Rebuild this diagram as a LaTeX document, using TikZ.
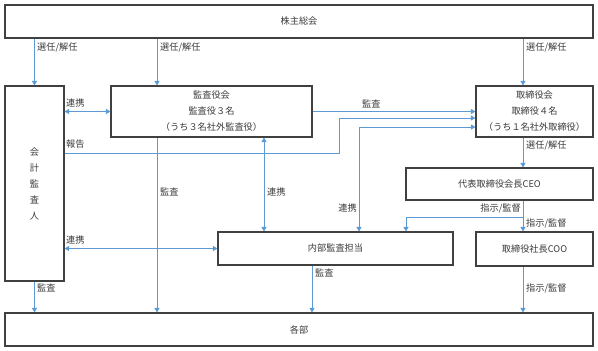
\documentclass[tikz,border=0pt]{standalone}
\usepackage{fontspec}
\setmainfont{Noto Sans CJK JP}
\usetikzlibrary{arrows.meta}
\definecolor{txt}{HTML}{3A3A3A}
\definecolor{bdr}{HTML}{404040}
\definecolor{lnk}{HTML}{5B9BD5}
\tikzset{
  box/.style={draw=bdr, line width=1.1pt, fill=white, inner sep=0pt, text=txt, align=center,
    font=\fontsize{9.2}{16}\selectfont},
  lbl/.style={inner sep=0pt, text=txt, font=\fontsize{9.2}{11}\selectfont},
  arr/.style={draw=lnk, line width=0.9pt, -{Triangle[length=4.5pt,width=5pt]}},
  darr/.style={draw=lnk, line width=0.9pt, {Triangle[length=4.5pt,width=5pt]}-{Triangle[length=4.5pt,width=5pt]}},
}
\begin{document}
\begin{tikzpicture}[x=1pt,y=-1pt]
\useasboundingbox (0,0) rectangle (598,351);
% boxes
\node[box, minimum width=588pt, minimum height=33pt] (sh) at (299,21.5) {株主総会};
\node[box, minimum width=59pt, minimum height=195pt] (kk) at (34.5,183.5) {会\\計\\監\\査\\人};
\node[box, minimum width=201pt, minimum height=51pt] (ka) at (211.5,111.5) {監査役会\\監査役３名\\（うち３名社外監査役）};
\node[box, minimum width=117pt, minimum height=51pt] (tb) at (534.5,111.5) {取締役会\\取締役４名\\（うち１名社外取締役）};
\node[box, minimum width=187pt, minimum height=32pt] (ceo) at (499.5,184) {代表取締役会長CEO};
\node[box, minimum width=235pt, minimum height=33pt] (nb) at (335.5,248.5) {内部監査担当};
\node[box, minimum width=117pt, minimum height=34pt] (coo) at (534.5,249) {取締役社長COO};
\node[box, minimum width=588pt, minimum height=33pt] (kb) at (299,329.5) {各部};
% helper coordinates
\coordinate (xa) at (157,0);
\coordinate (xt) at (523,0);
\coordinate (xr) at (264,0);
\coordinate (xn) at (359,0);
\coordinate (xi) at (312,0);
\coordinate (xc) at (406,0);
\coordinate (xh) at (339,0);
\coordinate (yh) at (0,153);
\coordinate (yk) at (0,118);
\coordinate (yn) at (0,127);
\coordinate (yb) at (0,217);
% connectors
\draw[arr] (sh.south -| kk.north) -- (kk.north);
\draw[arr] (sh.south -| xa) -- (ka.north -| xa);
\draw[arr] (sh.south -| xt) -- (tb.north -| xt);
\draw[darr] (kk.east |- ka.west) -- (ka.west);
\draw[arr] (ka.east) -- (tb.west |- ka.east);
\draw[arr] (kk.east |- yh) -- (xh |- yh) -- (xh |- yk) -- (tb.west |- yk);
\draw[darr] (tb.west |- yn) -- (xn |- yn) -- (nb.north -| xn);
\draw[darr] (ka.south -| xr) -- (nb.north -| xr);
\draw[arr] (ka.south -| xa) -- (kb.north -| xa);
\draw[darr] (kk.east |- nb.west) -- (nb.west);
\draw[arr] (kk.south) -- (kb.north -| kk.south);
\draw[arr] (nb.south -| xi) -- (kb.north -| xi);
\draw[arr] (tb.south -| xt) -- (ceo.north -| xt);
\draw[arr] (ceo.south -| xt) -- (coo.north -| xt);
\draw[arr] (xt |- yb) -- (xc |- yb) -- (nb.north -| xc);
\draw[arr] (coo.south -| xt) -- (kb.north -| xt);
% labels
\node[lbl, anchor=west] (l1) at (37,47) {選任/解任};
\node[lbl, anchor=west] (l2) at (160,47) {選任/解任};
\node[lbl, anchor=west] (l3) at (526,47) {選任/解任};
\node[lbl, anchor=west] (l4) at (66,103) {連携};
\node[lbl, anchor=west] (l5) at (66,144) {報告};
\node[lbl, anchor=west] (l6) at (362,104) {監査};
\node[lbl, anchor=west] (l7) at (526,145) {選任/解任};
\node[lbl, anchor=west] (l8) at (160,192) {監査};
\node[lbl, anchor=west] (l9) at (267,192) {連携};
\node[lbl, anchor=east] (l10) at (357,208) {連携};
\node[lbl, anchor=east] (l11) at (521,208) {指示/監督};
\node[lbl, anchor=west] (l12) at (526,223) {指示/監督};
\node[lbl, anchor=west] (l13) at (66,240) {連携};
\node[lbl, anchor=west] (l14) at (37,288) {監査};
\node[lbl, anchor=west] (l15) at (315,273) {監査};
\node[lbl, anchor=west] (l16) at (526,288) {指示/監督};
\end{tikzpicture}
\end{document}
